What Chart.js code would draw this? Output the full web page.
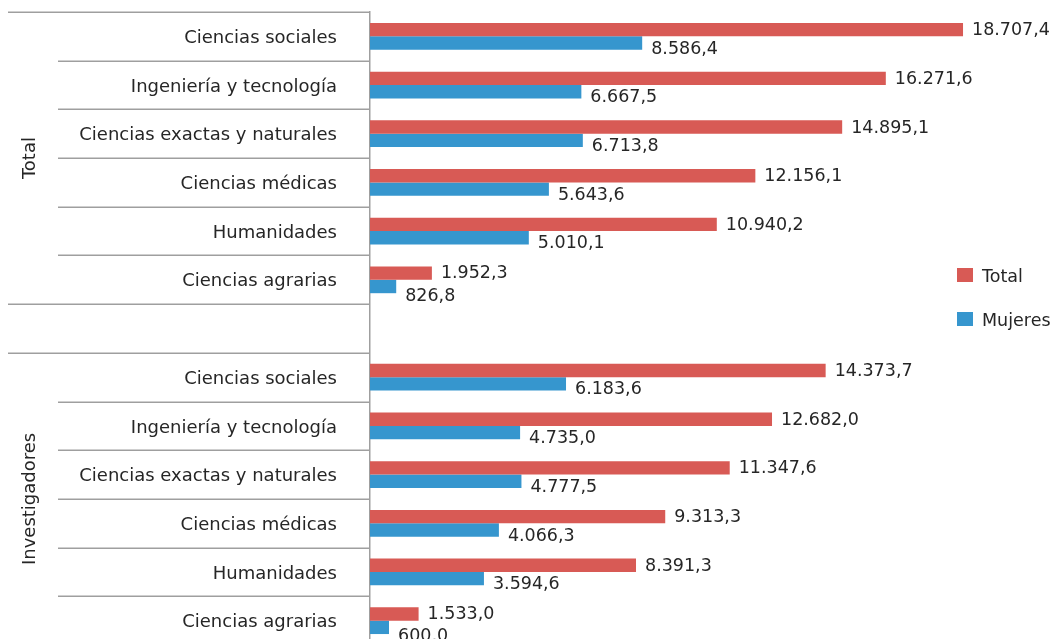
<!DOCTYPE html>
<html>
<head>
<meta charset="utf-8">
<script src="https://cdn.jsdelivr.net/npm/chart.js@4.4.1/dist/chart.umd.min.js"></script>
<style>
html, body { margin: 0; padding: 0; background: #fff; overflow: hidden; }
#wrap { position: relative; width: 1056px; height: 652px; }
</style>
</head>
<body>
<div id="wrap"><canvas id="chart"></canvas></div>
<script>
// Categories (blank entry = spacer row between the two groups)
const categories = [
    "Ciencias sociales", "Ingeniería y tecnología", "Ciencias exactas y naturales",
    "Ciencias médicas", "Humanidades", "Ciencias agrarias",
    "",
    "Ciencias sociales", "Ingeniería y tecnología", "Ciencias exactas y naturales",
    "Ciencias médicas", "Humanidades", "Ciencias agrarias"
]
const groupNames = ["Total", "Investigadores"]
const groupRanges = [[0, 5], [7, 12]]

const totalValues = [18707.4, 16271.6, 14895.1, 12156.1, 10940.2, 1952.3, null,
    14373.7, 12682.0, 11347.6, 9313.3, 8391.3, 1533.0]
const mujeresValues = [8586.4, 6667.5, 6713.8, 5643.6, 5010.1, 826.8, null,
    6183.6, 4735.0, 4777.5, 4066.3, 3594.6, 600.0]

const seriesNames = ["Total", "Mujeres"]
const seriesColors = ["#d85a55", "#3696ce"]

const textColor = "#262626"
const lineColor = "#9f9f9f"

Chart.defaults.font.family = "'DejaVu Sans', sans-serif"
Chart.defaults.color = textColor

// 18707,4 -> "18.707,4"
function formatValue(v) {
    const parts = v.toFixed(1).split(".")
    const intPart = parts[0].replace(/\B(?=(\d{3})+(?!\d))/g, ".")
    return intPart + "," + parts[1]
}

const decorations = {
    id: "decorations",
    afterDraw(chart) {
        const ctx = chart.ctx
        const yScale = chart.scales.y
        const area = chart.chartArea
        const rowH = yScale.getPixelForValue(1) - yScale.getPixelForValue(0)

        // separator lines across the label column
        ctx.save()
        ctx.strokeStyle = lineColor
        ctx.lineWidth = 1.5
        for (let i = 0; i <= categories.length; i++) {
            const y = Math.round(yScale.getPixelForValue(i) - rowH / 2) + 0.25
            const full = i === 0 || i === categories.length || categories[i] === "" || categories[i - 1] === ""
            ctx.beginPath()
            ctx.moveTo(full ? 8 : 58, y)
            ctx.lineTo(area.left, y)
            ctx.stroke()
        }
        ctx.restore()

        // group names, rotated
        ctx.save()
        ctx.fillStyle = textColor
        ctx.font = "18px 'DejaVu Sans'"
        ctx.textAlign = "center"
        ctx.textBaseline = "middle"
        groupRanges.forEach((r, gi) => {
            const yMid = (yScale.getPixelForValue(r[0]) + yScale.getPixelForValue(r[1])) / 2
            ctx.save()
            ctx.translate(30, yMid)
            ctx.rotate(-Math.PI / 2)
            ctx.fillText(groupNames[gi], 0, 0)
            ctx.restore()
        })
        ctx.restore()

        // value labels
        ctx.save()
        ctx.fillStyle = textColor
        ctx.font = "17.5px 'DejaVu Sans'"
        ctx.textAlign = "left"
        ctx.textBaseline = "middle"
        const redMeta = chart.getDatasetMeta(0)
        const blueMeta = chart.getDatasetMeta(1)
        for (let i = 0; i < categories.length; i++) {
            if (totalValues[i] == null) continue
            const rb = redMeta.data[i]
            const bb = blueMeta.data[i]
            const redText = formatValue(totalValues[i])
            const blueText = formatValue(mujeresValues[i])
            const rx = rb.x + 9
            const bx = bb.x + 9
            const bw = ctx.measureText(blueText).width
            const overlap = bx + bw > rx
            ctx.fillText(redText, rx, rb.y + (overlap ? 0 : 1))
            ctx.fillText(blueText, bx, bb.y + (overlap ? 9.5 : 6))
        }
        ctx.restore()

        // legend
        ctx.save()
        ctx.font = "17.5px 'DejaVu Sans'"
        ctx.textBaseline = "middle"
        ctx.textAlign = "left"
        const legendY = [268, 312]
        seriesNames.forEach((name, k) => {
            ctx.fillStyle = seriesColors[k]
            ctx.fillRect(957, legendY[k], 16, 14)
            ctx.fillStyle = textColor
            ctx.fillText(name, 982, legendY[k] + 9)
        })
        ctx.restore()
    }
}

new Chart(document.getElementById("chart"), {
    type: "bar",
    data: {
        labels: categories,
        datasets: [
            { label: seriesNames[0], data: totalValues, backgroundColor: seriesColors[0] },
            { label: seriesNames[1], data: mujeresValues, backgroundColor: seriesColors[1] }
        ]
    },
    options: {
        indexAxis: "y",
        responsive: true,
        maintainAspectRatio: false,
        animation: false,
        categoryPercentage: 0.55,
        barPercentage: 1,
        layout: { padding: { top: 12, bottom: 7, left: 0, right: 52 } },
        scales: {
            x: { display: false, min: 0, max: 20000 },
            y: {
                grid: { display: false, drawTicks: false },
                border: { display: true, color: lineColor, width: 1.5 },
                ticks: {
                    autoSkip: false,
                    padding: 33,
                    labelOffset: 2,
                    color: textColor,
                    font: { size: 18 }
                },
                afterFit(scale) {
                    scale.width = 370
                    // tick padding would otherwise push the plot down
                    scale.paddingTop = 0
                    scale.paddingBottom = 0
                }
            }
        },
        plugins: {
            legend: { display: false },
            tooltip: { enabled: false }
        }
    },
    plugins: [decorations]
})
</script>
</body>
</html>
